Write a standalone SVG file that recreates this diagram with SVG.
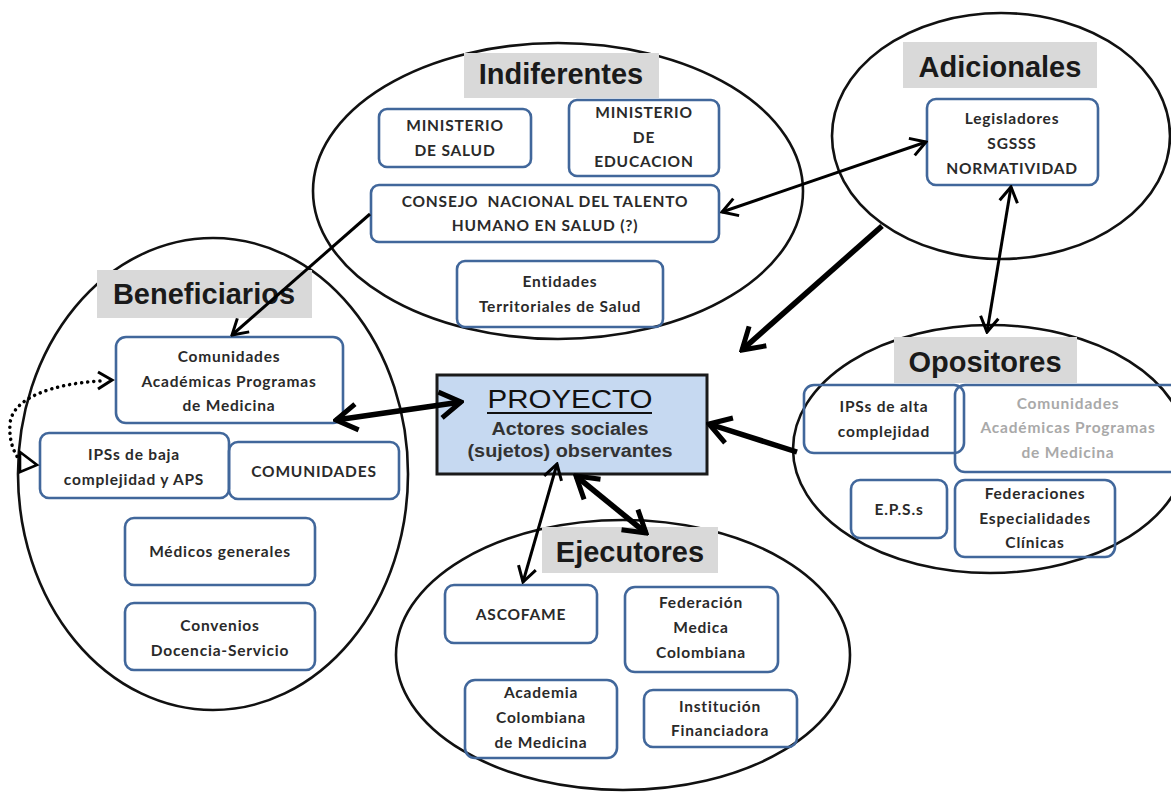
<svg xmlns="http://www.w3.org/2000/svg" width="1171" height="792" viewBox="0 0 1171 792">
  <style>
    .grp { fill: none; stroke: #111; stroke-width: 2.6; }
    .tagbg { fill: #d9d9d9; }
    .tag { font-family: "Liberation Sans", Arial, sans-serif; font-weight: bold; font-size: 29px; fill: #1a1a1a; text-anchor: middle; }
    .box { fill: none; stroke: #41679b; stroke-width: 2.6; }
    .t { font-family: Lato, "Open Sans", sans-serif; font-weight: bold; font-size: 15.5px; letter-spacing: 0.8px; fill: #2a2a2a; text-anchor: middle; }
    .faint { fill: #a9a9a9; }
    .ln { fill: none; stroke: #000; stroke-width: 3; }
    .lnb { fill: none; stroke: #000; stroke-width: 5.5; }
  </style>
  <defs>
    <marker id="ah" viewBox="0 0 22 22" markerWidth="22" markerHeight="22" refX="20" refY="11" orient="auto-start-reverse" markerUnits="userSpaceOnUse">
      <path d="M5,2 L20,11 L5,20" fill="none" stroke="#000" stroke-width="3"/>
    </marker>
    <marker id="ahb" viewBox="0 0 32 32" markerWidth="32" markerHeight="32" refX="29" refY="16" orient="auto-start-reverse" markerUnits="userSpaceOnUse">
      <path d="M8,3 L29,16 L8,29" fill="none" stroke="#000" stroke-width="5"/>
    </marker>
  </defs>
  <rect width="1171" height="792" fill="#fff"/>

  <!-- group outlines -->
  <g id="outlines">
    <ellipse class="grp" cx="558" cy="191" rx="245" ry="148"/>
    <ellipse class="grp" cx="1001" cy="136" rx="169" ry="123"/>
    <ellipse class="grp" cx="213" cy="474" rx="195" ry="236"/>
    <ellipse class="grp" cx="990" cy="449" rx="197" ry="124"/>
    <ellipse class="grp" cx="623" cy="655" rx="227" ry="135"/>
  </g>

  <!-- Indiferentes -->
  <g id="indiferentes">
    <rect class="tagbg" x="464" y="53" width="195" height="45"/>
    <text class="tag" x="561" y="84">Indiferentes</text>
    <g id="min-salud">
      <rect class="box" x="379" y="109" width="152" height="58" rx="8"/>
      <text class="t" x="455" y="131">MINISTERIO</text>
      <text class="t" x="455" y="156">DE SALUD</text>
    </g>
    <g id="min-educacion">
      <rect class="box" x="569" y="100" width="150" height="76" rx="8"/>
      <text class="t" x="644" y="118">MINISTERIO</text>
      <text class="t" x="644" y="143">DE</text>
      <text class="t" x="644" y="167">EDUCACION</text>
    </g>
    <g id="consejo">
      <rect class="box" x="371" y="185" width="348" height="57" rx="8"/>
      <text class="t" x="545" y="207" xml:space="preserve">CONSEJO  NACIONAL DEL TALENTO</text>
      <text class="t" x="545" y="231">HUMANO EN SALUD (?)</text>
    </g>
    <g id="entidades">
      <rect class="box" x="457" y="261" width="206" height="66" rx="8"/>
      <text class="t" x="560" y="287">Entidades</text>
      <text class="t" x="560" y="312">Territoriales de Salud</text>
    </g>
  </g>

  <!-- Adicionales -->
  <g id="adicionales">
    <rect class="tagbg" x="903" y="42" width="194" height="46"/>
    <text class="tag" x="1000" y="77">Adicionales</text>
    <g id="legisladores">
      <rect class="box" x="927" y="99" width="171" height="86" rx="9"/>
      <text class="t" x="1012" y="124">Legisladores</text>
      <text class="t" x="1012" y="149">SGSSS</text>
      <text class="t" x="1012" y="174">NORMATIVIDAD</text>
    </g>
  </g>

  <!-- Beneficiarios -->
  <g id="beneficiarios">
    <rect class="tagbg" x="97" y="270" width="215" height="48"/>
    <text class="tag" x="204" y="304">Beneficiarios</text>
    <g id="comunidades-academicas">
      <rect class="box" x="116" y="337" width="227" height="86" rx="10"/>
      <text class="t" x="229" y="362">Comunidades</text>
      <text class="t" x="229" y="387">Académicas Programas</text>
      <text class="t" x="229" y="411">de Medicina</text>
    </g>
    <g id="ips-baja">
      <rect class="box" x="40" y="433" width="189" height="65" rx="9"/>
      <text class="t" x="134" y="460">IPSs de baja</text>
      <text class="t" x="134" y="485">complejidad y APS</text>
    </g>
    <g id="comunidades">
      <rect class="box" x="229" y="442" width="170" height="57" rx="9"/>
      <text class="t" x="314" y="477">COMUNIDADES</text>
    </g>
    <g id="medicos">
      <rect class="box" x="125" y="518" width="190" height="67" rx="9"/>
      <text class="t" x="220" y="557">Médicos generales</text>
    </g>
    <g id="convenios">
      <rect class="box" x="125" y="603" width="190" height="67" rx="9"/>
      <text class="t" x="220" y="631">Convenios</text>
      <text class="t" x="220" y="656">Docencia-Servicio</text>
    </g>
  </g>

  <!-- Opositores -->
  <g id="opositores">
    <rect class="tagbg" x="894" y="337" width="183" height="46"/>
    <text class="tag" x="985" y="372">Opositores</text>
    <g id="ips-alta">
      <rect class="box" x="804" y="385" width="160" height="68" rx="10"/>
      <text class="t" x="884" y="412">IPSs de alta</text>
      <text class="t" x="884" y="437">complejidad</text>
    </g>
    <g id="comunidades-academicas-op">
      <rect class="box" x="955" y="385" width="230" height="87" rx="10"/>
      <text class="t faint" x="1068" y="409">Comunidades</text>
      <text class="t faint" x="1068" y="433">Académicas Programas</text>
      <text class="t faint" x="1068" y="458">de Medicina</text>
    </g>
    <g id="eps">
      <rect class="box" x="851" y="480" width="96" height="58" rx="9"/>
      <text class="t" x="899" y="515">E.P.S.s</text>
    </g>
    <g id="federaciones">
      <rect class="box" x="955" y="480" width="160" height="77" rx="10"/>
      <text class="t" x="1035" y="499">Federaciones</text>
      <text class="t" x="1035" y="524">Especialidades</text>
      <text class="t" x="1035" y="548">Clínicas</text>
    </g>
  </g>

  <!-- Ejecutores -->
  <g id="ejecutores">
    <rect class="tagbg" x="542" y="527" width="176" height="46"/>
    <text class="tag" x="630" y="562">Ejecutores</text>
    <g id="ascofame">
      <rect class="box" x="445" y="585" width="152" height="58" rx="9"/>
      <text class="t" x="521" y="620">ASCOFAME</text>
    </g>
    <g id="federacion-medica">
      <rect class="box" x="625" y="587" width="153" height="85" rx="10"/>
      <text class="t" x="701" y="608">Federación</text>
      <text class="t" x="701" y="633">Medica</text>
      <text class="t" x="701" y="658">Colombiana</text>
    </g>
    <g id="academia">
      <rect class="box" x="465" y="680" width="152" height="78" rx="10"/>
      <text class="t" x="541" y="698">Academia</text>
      <text class="t" x="541" y="723">Colombiana</text>
      <text class="t" x="541" y="748">de Medicina</text>
    </g>
    <g id="institucion">
      <rect class="box" x="644" y="690" width="153" height="57" rx="9"/>
      <text class="t" x="720" y="712">Institución</text>
      <text class="t" x="720" y="736">Financiadora</text>
    </g>
  </g>

  <!-- central project node -->
  <g id="proyecto">
    <rect x="437" y="375" width="270" height="99" fill="#c6d9f1" stroke="#1a1a1a" stroke-width="3"/>
    <text x="570" y="408" font-family="Liberation Sans, Arial, sans-serif" font-size="25" fill="#111" text-anchor="middle" textLength="165" lengthAdjust="spacingAndGlyphs">PROYECTO</text>
    <line x1="487" y1="413" x2="652" y2="413" stroke="#111" stroke-width="2"/>
    <text x="570" y="435" font-family="Liberation Sans, Arial, sans-serif" font-weight="bold" font-size="18" fill="#333" text-anchor="middle" textLength="157" lengthAdjust="spacingAndGlyphs">Actores sociales</text>
    <text x="570" y="457" font-family="Liberation Sans, Arial, sans-serif" font-weight="bold" font-size="18" fill="#333" text-anchor="middle" textLength="205" lengthAdjust="spacingAndGlyphs">(sujetos) observantes</text>
  </g>

  <!-- connectors -->
  <g id="connectors">
    <line class="ln" x1="722" y1="212" x2="926" y2="142" marker-start="url(#ah)" marker-end="url(#ah)"/>
    <line class="ln" x1="370" y1="214" x2="232" y2="335" marker-end="url(#ah)"/>
    <line class="lnb" x1="882" y1="226" x2="742" y2="350" stroke-width="6.5" marker-end="url(#ahb)"/>
    <line class="ln" x1="1011" y1="187" x2="987" y2="332" marker-start="url(#ah)" marker-end="url(#ah)"/>
    <line class="lnb" x1="797" y1="452" x2="709" y2="424" marker-end="url(#ahb)"/>
    <line class="lnb" x1="336" y1="420" x2="461" y2="402" marker-start="url(#ahb)" marker-end="url(#ahb)"/>
    <line class="ln" x1="557" y1="464" x2="523" y2="582" marker-start="url(#ah)" marker-end="url(#ah)"/>
    <line class="lnb" x1="576" y1="476" x2="646" y2="533" marker-start="url(#ahb)" marker-end="url(#ahb)"/>
    <path d="M100,381 C52,384 12,398 10,424 C9,440 13,450 18,458" fill="none" stroke="#000" stroke-width="3.5" stroke-dasharray="0.1 6" stroke-linecap="round"/>
    <path d="M98,372 L112,380 L98,389" fill="none" stroke="#000" stroke-width="3"/>
    <path d="M20,452 L37,465 L20,472 Z" fill="#fff" stroke="#000" stroke-width="2.6"/>
  </g>
</svg>
